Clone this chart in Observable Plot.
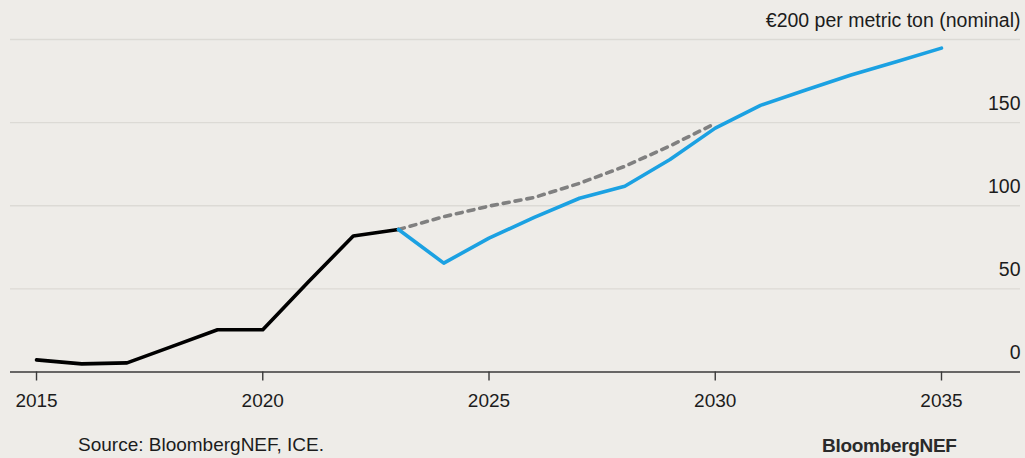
<!DOCTYPE html>
<html><head><meta charset="utf-8">
<script src="https://cdn.jsdelivr.net/npm/d3@7"></script>
<script src="https://cdn.jsdelivr.net/npm/@observablehq/plot@0.6"></script>
<style>
html,body{margin:0;padding:0;background:#EEECE8;}
#wrap{width:1025px;height:458px;position:relative;overflow:hidden;background:#EEECE8;font-family:"Liberation Sans",Arial,sans-serif;color:#1c1c1c;}
#foot{position:relative;height:33px;}
#foot .src{position:absolute;left:78px;top:10px;font-size:19px;line-height:19px;white-space:nowrap;}
#foot .logo{position:absolute;left:822px;top:11px;font-size:19px;line-height:19px;font-weight:bold;letter-spacing:-0.3px;color:#2a2a2a;white-space:nowrap;}
</style></head>
<body><div id="wrap"><div id="chart"></div>
<div id="foot"><span class="src">Source: BloombergNEF, ICE.</span><span class="logo">BloombergNEF</span></div></div>
<script>
const historicalYears = [2015, 2016, 2017, 2018, 2019, 2020, 2021, 2022, 2023];
const historicalPrices = [7.3, 4.9, 5.5, 15.4, 25.4, 25.4, 54, 81.8, 85.7];
const forecastYears = [2023, 2024, 2025, 2026, 2027, 2028, 2029, 2030, 2031, 2032, 2033, 2034, 2035];
const forecastPrices = [85.7, 65.5, 80.5, 93, 104.5, 111.7, 127.8, 146.7, 160.4, 169.6, 178.6, 186.6, 194.8];
const previousYears = [2023, 2024, 2025, 2026, 2027, 2028, 2029, 2030];
const previousPrices = [85.7, 93.4, 99.8, 105, 113.5, 123.7, 136, 149.5];
const xTicks = [2015, 2020, 2025, 2030, 2035];
const yTicks = [0, 50, 100, 150, 200];
const yTickLabels = ["0", "50", "100", "150", "€200 per metric ton (nominal)"];

const hist = historicalYears.map((y, i) => ({year: y, value: historicalPrices[i]}));
const fc = forecastYears.map((y, i) => ({year: y, value: forecastPrices[i]}));
const prev = previousYears.map((y, i) => ({year: y, value: previousPrices[i]}));

const chart = Plot.plot({
  width: 1025,
  height: 425,
  marginTop: 39,
  marginBottom: 53.5,
  marginLeft: 10,
  marginRight: 5,
  x: {domain: [2014.425, 2036.746]},
  y: {domain: [0, 200], axis: null},
  style: {background: "transparent", fontFamily: "'Liberation Sans', Arial, sans-serif", fontSize: "19px", color: "#1c1c1c"},
  marks: [
    Plot.ruleY(yTicks.filter(d => d > 0), {stroke: "#dcdad5", strokeWidth: 1.3}),
    Plot.ruleY([0], {stroke: "#3a3a3a", strokeWidth: 1.6}),
    Plot.axisX({ticks: xTicks, tickFormat: d => String(d), tickSize: 9, tickPadding: 12, stroke: "#3a3a3a", strokeWidth: 1.4, fontSize: 19, fill: "#1c1c1c", label: null}),
    Plot.text(yTicks, {frameAnchor: "right", y: d => d, text: (d, i) => yTickLabels[i], textAnchor: "end", dy: -19, fontSize: 19.5, fill: "#1c1c1c"}),
    Plot.line(hist, {x: "year", y: "value", stroke: "#000000", strokeWidth: 3.6, strokeLinejoin: "round"}),
    Plot.line(prev, {x: "year", y: "value", stroke: "#808080", strokeWidth: 3.6, strokeDasharray: "6,6", strokeLinecap: "round", strokeLinejoin: "round"}),
    Plot.line(fc, {x: "year", y: "value", stroke: "#1BA1E2", strokeWidth: 3.6, strokeLinejoin: "round"})
  ]
});
document.getElementById("chart").appendChild(chart);
</script>
</body></html>
